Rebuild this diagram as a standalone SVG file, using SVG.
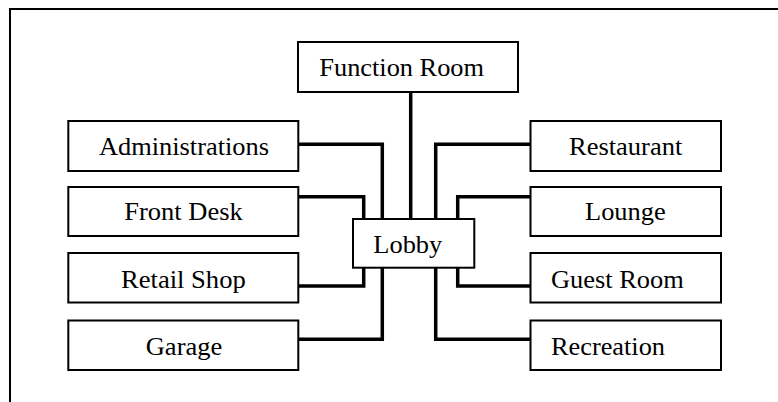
<svg xmlns="http://www.w3.org/2000/svg" width="778" height="402" viewBox="0 0 778 402">
<style>
.box{fill:#fff;stroke:#000;stroke-width:2}
text{font-family:'Liberation Serif','DejaVu Serif',serif;font-size:25px;fill:#000}
.con{fill:none;stroke:#000;stroke-width:3.5;stroke-linejoin:miter}
</style>
<rect width="778" height="402" fill="#fff"/>
<rect x="10" y="9" width="800" height="420" fill="none" stroke="#000" stroke-width="2"/>
<g id="connectors">
<path class="con" d="M410.7,92 V219"/>
<path class="con" d="M298,144.3 H382.3 V219"/>
<path class="con" d="M298,196.7 H363.7 V219"/>
<path class="con" d="M530.5,144.3 H435.7 V219"/>
<path class="con" d="M530.5,196.7 H457.7 V219"/>
<path class="con" d="M298,286 H363.7 V264"/>
<path class="con" d="M298,339.3 H382.3 V264"/>
<path class="con" d="M530.5,286 H457.7 V264"/>
<path class="con" d="M530.5,339.3 H435.7 V264"/>
</g>
<g id="function-room"><rect class="box" x="298" y="42" width="220" height="50"/><text x="319.3" y="76" textLength="164.7" lengthAdjust="spacingAndGlyphs">Function Room</text></g>
<g id="administrations"><rect class="box" x="68.3" y="121" width="230" height="50"/><text x="99" y="155" textLength="170" lengthAdjust="spacingAndGlyphs">Administrations</text></g>
<g id="front-desk"><rect class="box" x="68.3" y="187" width="230" height="49"/><text x="124.3" y="220" textLength="118.4" lengthAdjust="spacingAndGlyphs">Front Desk</text></g>
<g id="retail-shop"><rect class="box" x="68.3" y="253" width="230" height="49.5"/><text x="121" y="287.5" textLength="124.7" lengthAdjust="spacingAndGlyphs">Retail Shop</text></g>
<g id="garage"><rect class="box" x="68.3" y="320.5" width="230" height="49.5"/><text x="145.7" y="354.5" textLength="76.6" lengthAdjust="spacingAndGlyphs">Garage</text></g>
<g id="restaurant"><rect class="box" x="530.5" y="121" width="190.5" height="50"/><text x="569" y="155" textLength="113.3" lengthAdjust="spacingAndGlyphs">Restaurant</text></g>
<g id="lounge"><rect class="box" x="530.5" y="187" width="190.5" height="49"/><text x="585" y="220" textLength="80.7" lengthAdjust="spacingAndGlyphs">Lounge</text></g>
<g id="guest-room"><rect class="box" x="530.5" y="253" width="190.5" height="49.5"/><text x="551" y="287.5" textLength="132.7" lengthAdjust="spacingAndGlyphs">Guest Room</text></g>
<g id="recreation"><rect class="box" x="530.5" y="320.5" width="190.5" height="49.5"/><text x="551" y="354.5" textLength="114" lengthAdjust="spacingAndGlyphs">Recreation</text></g>
<g id="lobby"><rect class="box" x="353" y="219" width="121.3" height="48.7"/><text x="373.3" y="253" textLength="69" lengthAdjust="spacingAndGlyphs">Lobby</text></g>
</svg>
